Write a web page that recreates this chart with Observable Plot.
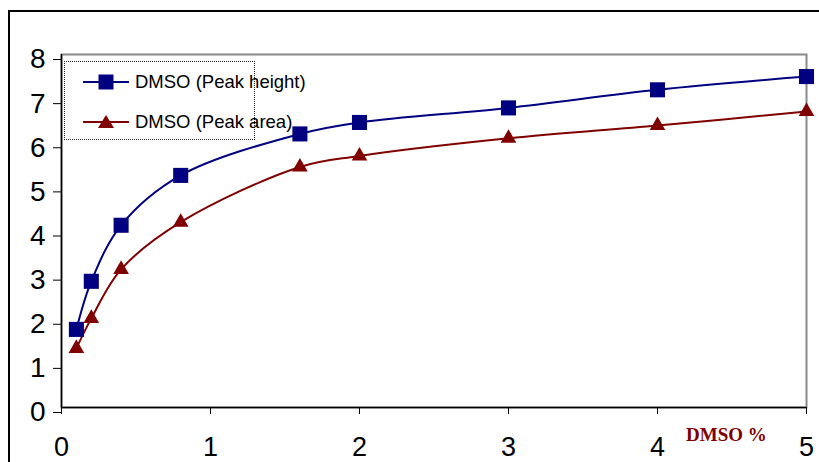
<!DOCTYPE html>
<html>
<head>
<meta charset="utf-8">
<script src="https://cdn.jsdelivr.net/npm/d3@7"></script>
<script src="https://cdn.jsdelivr.net/npm/@observablehq/plot@0.6"></script>
<style>
  html, body { margin: 0; padding: 0; background: #fff; overflow: hidden; }
  #wrap { position: relative; width: 819px; height: 462px; overflow: hidden; font-family: Arial, "Liberation Sans", sans-serif; }
  #outer { position: absolute; left: 8px; top: 10px; width: 1000px; height: 1000px; border-top: 2px solid #000; border-left: 2px solid #000; box-sizing: border-box; }
  #chart { position: absolute; left: 0; top: 0; }
  #legend { position: absolute; left: 64px; top: 61px; width: 191px; height: 79px; border: 1px dotted #222; box-sizing: border-box; }
  .item { position: absolute; left: 0; height: 22px; display: flex; align-items: center; font-size: 18.5px; color: #000; white-space: nowrap; }
  .item svg { margin-left: 18px; margin-right: 6px; }
  #xtitle { position: absolute; left: 686px; top: 425px; line-height: 1; font-family: "Liberation Serif", "Times New Roman", serif; font-weight: bold; font-size: 19px; color: #800000; }
</style>
</head>
<body>
<div id="wrap">
  <div id="outer"></div>
  <div id="chart"></div>
  <div id="legend"></div>
  <div id="xtitle">DMSO %</div>
</div>
<script>
const dmso = [0.1, 0.2, 0.4, 0.8, 1.6, 2, 3, 4, 5];
const peakHeight = [1.77, 2.86, 4.13, 5.26, 6.2, 6.46, 6.79, 7.2, 7.5];
const peakArea = [1.34, 2.02, 3.13, 4.2, 5.45, 5.7, 6.1, 6.39, 6.71];
const seriesNames = ["DMSO (Peak height)", "DMSO (Peak area)"];
const seriesColors = ["#000080", "#800000"];
const seriesSymbols = ["square", "triangle"];
const xTicks = [0, 1, 2, 3, 4, 5];
const yTicks = [0, 1, 2, 3, 4, 5, 6, 7, 8];

const h = dmso.map((x, i) => ({x, y: peakHeight[i]}));
const a = dmso.map((x, i) => ({x, y: peakArea[i]}));

const chart = Plot.plot({
  width: 819,
  height: 462,
  marginLeft: 61,
  marginTop: 54,
  marginRight: 13,
  marginBottom: 55,
  style: {fontFamily: "Arial, 'Liberation Sans', sans-serif", background: "transparent", color: "#000"},
  x: {domain: [0, 5]},
  y: {domain: [0, 8]},
  marks: [
    Plot.frame({stroke: "#888", strokeWidth: 2}),
    Plot.ruleX([0], {stroke: "#000", strokeWidth: 1.5}),
    Plot.ruleY([0], {stroke: "#000", strokeWidth: 1.5}),
    Plot.axisY({ticks: yTicks, tickSize: 8, tickPadding: 8, dy: 5, fontSize: 28, label: null, tickFormat: d3.format("d")}),
    Plot.axisX({ticks: xTicks, tickSize: 7, tickPadding: 22, fontSize: 27, label: null, tickFormat: d3.format("d")}),
    Plot.line(h, {x: "x", y: "y", stroke: seriesColors[0], strokeWidth: 2, curve: "catmull-rom"}),
    Plot.line(a, {x: "x", y: "y", stroke: seriesColors[1], strokeWidth: 2, curve: "catmull-rom"}),
    Plot.dot(h, {x: "x", y: "y", symbol: seriesSymbols[0], fill: seriesColors[0], r: 8.5}),
    Plot.dot(a, {x: "x", y: "y", symbol: seriesSymbols[1], fill: seriesColors[1], r: 5.8})
  ]
});
document.getElementById("chart").appendChild(chart);

// Legend
const legend = document.getElementById("legend");
const tops = [9, 49];
seriesNames.forEach((name, i) => {
  const item = document.createElement("div");
  item.className = "item";
  item.style.top = tops[i] + "px";
  const sym = i === 0
    ? `<rect x="15.5" y="3.5" width="15" height="15" fill="${seriesColors[i]}"/>`
    : `<path d="M23,4 L31,17 L15,17 Z" fill="${seriesColors[i]}"/>`;
  item.innerHTML = `<svg width="46" height="22" viewBox="0 0 46 22"><line x1="0" y1="11" x2="46" y2="11" stroke="${seriesColors[i]}" stroke-width="2"/>${sym}</svg><span>${name}</span>`;
  legend.appendChild(item);
});
</script>
</body>
</html>
